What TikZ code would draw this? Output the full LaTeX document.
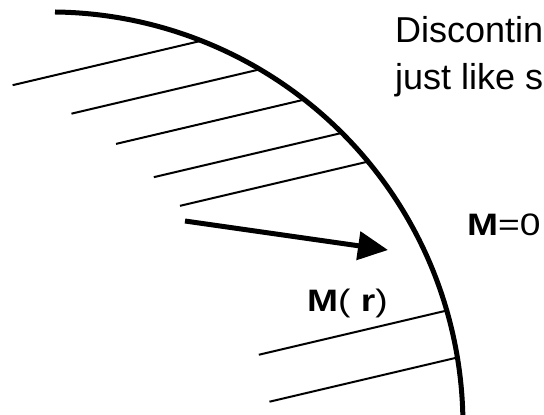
\documentclass[tikz,border=0pt]{standalone}
\usepackage{graphicx}
\usepackage{fontspec}
\setmainfont{Liberation Sans}
\usetikzlibrary{arrows.meta}

\begin{document}
\begin{tikzpicture}[
    x=1pt, y=1pt,
    every node/.style={inner sep=0pt, anchor=base west},
    boundary/.style={line width=5pt},
    hatch/.style={line width=2pt},
    magarrow/.style={
        line width=5pt,
        -{Triangle[length=30pt, width=28pt]}
    },
    bigtext/.style={font=\fontsize{36}{43}\selectfont},
    maglabel/.style={font=\fontsize{31}{37}\selectfont}
]

\useasboundingbox (0,0) rectangle (544,415);
\clip (0,0) rectangle (544,415);

% Surface of the body
\draw[boundary] (55,403) arc[start angle=89.3, end angle=-3, radius=413];

% Hatching inside
\begin{scope}[shift={(50,-10)}]
\foreach \a in {68.7,59.6,52.1,45.1,39.7,16.1,9.4}
    \draw[hatch] (\a:412) -- ++(-187,-44);
\end{scope}

% Magnetisation arrow
\coordinate (tail) at (185,194);
\coordinate (tip)  at (388,165);
\draw[magarrow] (tail) -- (tip);

% Texts
\node[bigtext]  (disc1) at (395,372) {Discontinuity};
\node[bigtext]  (disc2) at (395,325) {just like surface};
\node[maglabel] (mzero) at (467,179) {\scalebox{1.2}[1]{\textbf{M}=0}};
\node[maglabel] (mr)    at (307,103) {\scalebox{1.2}[1]{\textbf{M}( \textbf{r})}};

\end{tikzpicture}
\end{document}
